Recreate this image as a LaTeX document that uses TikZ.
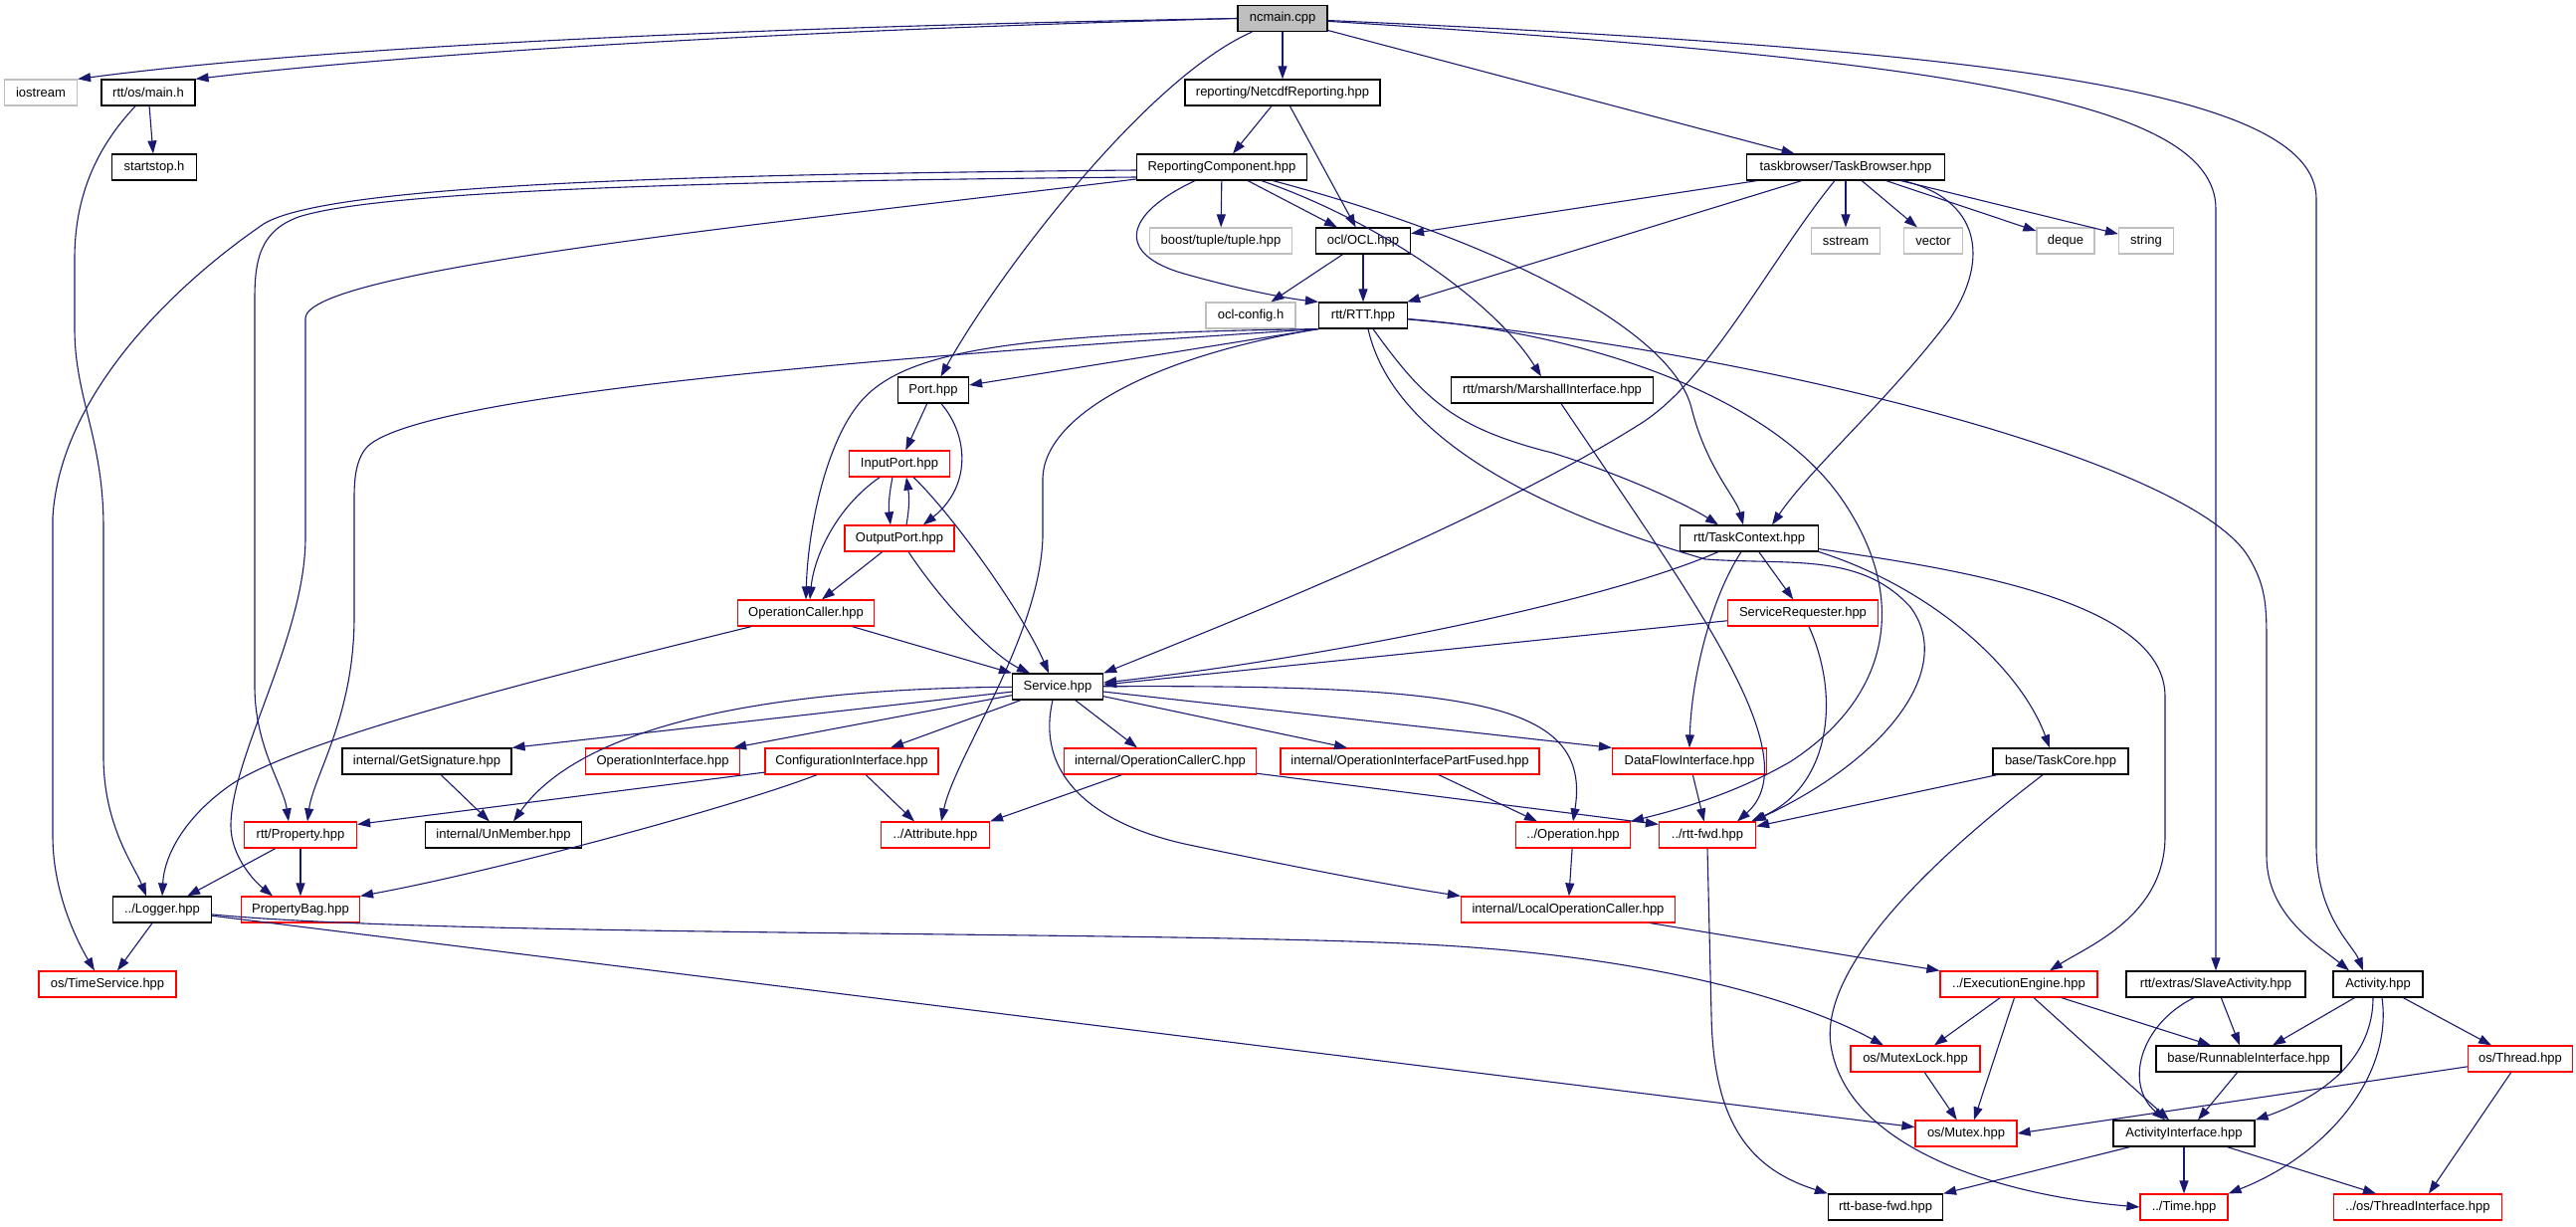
\documentclass[tikz,border=0pt]{standalone}
\usepackage{fontspec}
\setmainfont{Liberation Sans}
\usetikzlibrary{arrows.meta}
\definecolor{edgecol}{HTML}{191970}
\definecolor{doxgray}{HTML}{BFBFBF}
\definecolor{doxred}{HTML}{FF0000}
\tikzset{
  nb/.style={draw=black, line width=1.2pt, fill=white, minimum height=26pt, inner sep=0pt, font=\fontsize{13}{15}\selectfont, text=black},
  nbgray/.style={nb, draw=doxgray},
  nbred/.style={nb, draw=doxred},
  nbroot/.style={nb, fill=doxgray},
  e/.style={draw=edgecol, line width=1.1pt, -{Triangle[length=13pt,width=9pt]}},
}
\begin{document}
\begin{tikzpicture}[x=1pt,y=-1pt]
\fill[white] (0,0) rectangle (2589,1232);
\useasboundingbox (0,0) rectangle (2589,1232);
% nodes
\node[nbroot, minimum width=90pt] (ncmain) at (1289,18.5) {ncmain.cpp};
\node[nbgray, minimum width=73pt] (iostream) at (41,93) {iostream};
\node[nb, minimum width=94pt] (mainh) at (149,93) {rtt/os/main.h};
\node[nb, minimum width=196pt] (netcdf) at (1289,93) {reporting/NetcdfReporting.hpp};
\node[nb, minimum width=85pt] (startstop) at (155,168) {startstop.h};
\node[nb, minimum width=171pt] (repcomp) at (1228,168) {ReportingComponent.hpp};
\node[nb, minimum width=199pt] (taskbrowser) at (1855,168) {taskbrowser/TaskBrowser.hpp};
\node[nbgray, minimum width=143pt] (tuple) at (1227,242) {boost/tuple/tuple.hpp};
\node[nb, minimum width=95pt] (ocl) at (1370,242) {ocl/OCL.hpp};
\node[nbgray, minimum width=69pt] (sstream) at (1855,242) {sstream};
\node[nbgray, minimum width=59pt] (vector) at (1943,242) {vector};
\node[nbgray, minimum width=58pt] (deque) at (2076,242) {deque};
\node[nbgray, minimum width=55pt] (string) at (2157,242) {string};
\node[nbgray, minimum width=90pt] (oclconfig) at (1257,317) {ocl-config.h};
\node[nb, minimum width=89pt] (rtt) at (1370,317) {rtt/RTT.hpp};
\node[nb, minimum width=71pt] (port) at (938,392) {Port.hpp};
\node[nb, minimum width=203pt] (marsh) at (1560,392) {rtt/marsh/MarshallInterface.hpp};
\node[nbred, minimum width=101pt] (inputport) at (904,466) {InputPort.hpp};
\node[nbred, minimum width=110pt] (outputport) at (904,541) {OutputPort.hpp};
\node[nb, minimum width=139pt] (taskcontext) at (1758,541) {rtt/TaskContext.hpp};
\node[nbred, minimum width=137pt] (opcaller) at (810,616) {OperationCaller.hpp};
\node[nbred, minimum width=151pt] (servicereq) at (1812,616) {ServiceRequester.hpp};
\node[nb, minimum width=91pt] (service) at (1063,690) {Service.hpp};
\node[nb, minimum width=170pt] (getsig) at (429,765) {internal/GetSignature.hpp};
\node[nbred, minimum width=155pt] (opiface) at (666,765) {OperationInterface.hpp};
\node[nbred, minimum width=174pt] (configiface) at (856,765) {ConfigurationInterface.hpp};
\node[nbred, minimum width=193pt] (opcallerc) at (1166,765) {internal/OperationCallerC.hpp};
\node[nbred, minimum width=260pt] (partfused) at (1417,765) {internal/OperationInterfacePartFused.hpp};
\node[nbred, minimum width=155pt] (dataflow) at (1698,765) {DataFlowInterface.hpp};
\node[nb, minimum width=136pt] (taskcore) at (2071,765) {base/TaskCore.hpp};
\node[nbred, minimum width=113pt] (property) at (302,839) {rtt/Property.hpp};
\node[nb, minimum width=157pt] (unmember) at (506,839) {internal/UnMember.hpp};
\node[nbred, minimum width=109pt] (attribute) at (940,839) {../Attribute.hpp};
\node[nbred, minimum width=115pt] (operation) at (1581,839) {../Operation.hpp};
\node[nbred, minimum width=97pt] (rttfwd) at (1716,839) {../rtt-fwd.hpp};
\node[nb, minimum width=99pt] (logger) at (163,914) {../Logger.hpp};
\node[nbred, minimum width=119pt] (propbag) at (302,914) {PropertyBag.hpp};
\node[nbred, minimum width=215pt] (localopc) at (1576,914) {internal/LocalOperationCaller.hpp};
\node[nbred, minimum width=138pt] (timeservice) at (108,989) {os/TimeService.hpp};
\node[nbred, minimum width=158pt] (execengine) at (2029,989) {../ExecutionEngine.hpp};
\node[nb, minimum width=180pt] (slave) at (2227,989) {rtt/extras/SlaveActivity.hpp};
\node[nb, minimum width=90pt] (activity) at (2390,989) {Activity.hpp};
\node[nbred, minimum width=130pt] (mutexlock) at (1925,1064) {os/MutexLock.hpp};
\node[nb, minimum width=186pt] (runnable) at (2260,1064) {base/RunnableInterface.hpp};
\node[nbred, minimum width=105pt] (thread) at (2533,1064) {os/Thread.hpp};
\node[nbred, minimum width=102pt] (mutex) at (1976,1139) {os/Mutex.hpp};
\node[nb, minimum width=142pt] (actiface) at (2195,1139) {ActivityInterface.hpp};
\node[nb, minimum width=115pt] (rttbasefwd) at (1895,1213) {rtt-base-fwd.hpp};
\node[nbred, minimum width=88pt] (time) at (2195,1213) {../Time.hpp};
\node[nbred, minimum width=169pt] (threadiface) at (2430,1213) {../os/ThreadInterface.hpp};
% edges: ncmain
\draw[e] (ncmain.west) .. controls (700,28) and (300,50) .. (iostream.north east);
\draw[e] (ncmain.west) .. controls (700,33) and (360,60) .. (mainh.north east);
\draw[e] (ncmain) .. controls (1150,80) and (1000,280) .. (port);
\draw[e] (ncmain) -- (netcdf);
\draw[e] (ncmain) -- (taskbrowser);
\draw[e] (ncmain) .. controls (1950,60) and (2227,100) .. (2227,210) -- (slave);
\draw[e] (ncmain) .. controls (2000,50) and (2328,90) .. (2328,200) -- (2328,850) .. controls (2328,920) and (2365,950) .. ([xshift=-15pt]activity.north);
% main.h
\draw[e] (mainh) -- (startstop);
\draw[e] (mainh) .. controls (95,150) and (75,200) .. (75,260) -- (75,330) .. controls (75,400) and (104,440) .. (104,530) -- (104,760) .. controls (104,830) and (135,870) .. ([xshift=-16pt]logger.north);
% netcdf
\draw[e] (netcdf) -- (repcomp);
\draw[e] (netcdf) -- (ocl);
% reporting component
\draw[e] (repcomp) -- (tuple);
\draw[e] (repcomp) -- (ocl);
\draw[e] ([xshift=-27pt]repcomp.south) .. controls (1130,215) and (1120,255) .. (1190,275) .. controls (1250,292) and (1295,300) .. (rtt.north west);
\draw[e] (repcomp) .. controls (1380,220) and (1500,300) .. ([xshift=-11pt]marsh.north);
\draw[e] (repcomp) .. controls (1500,240) and (1680,330) .. (1700,410) .. controls (1715,470) and (1745,500) .. ([xshift=-6pt]taskcontext.north);
\draw[e] ([yshift=-3pt]repcomp.west) .. controls (700,175) and (330,185) .. (265,225) .. controls (170,290) and (60,400) .. (53,520) -- (53,840) .. controls (53,900) and (80,950) .. ([xshift=-13pt]timeservice.north);
\draw[e] ([yshift=-10pt]repcomp.west) .. controls (700,182) and (380,192) .. (300,218) .. controls (262,232) and (256,260) .. (256,300) -- (256,690) .. controls (256,750) and (285,790) .. ([xshift=-12pt]property.north);
\draw[e] ([yshift=-12pt]repcomp.west) .. controls (800,222) and (307,270) .. (307,320) -- (307,540) .. controls (307,640) and (232,760) .. (232,830) .. controls (232,860) and (255,885) .. ([xshift=-28pt]propbag.north);
% ocl
\draw[e] (ocl) -- (rtt);
\draw[e] (ocl) -- (oclconfig);
% taskbrowser
\draw[e] (taskbrowser) -- (ocl);
\draw[e] (taskbrowser) -- (rtt);
\draw[e] (taskbrowser) .. controls (1780,260) and (1720,380) .. (1650,425) .. controls (1500,520) and (1250,620) .. (service.north east);
\draw[e] (taskbrowser) -- (sstream);
\draw[e] (taskbrowser) -- (vector);
\draw[e] (taskbrowser) -- (deque);
\draw[e] (taskbrowser) -- (string);
\draw[e] (taskbrowser) .. controls (1990,200) and (2000,260) .. (1960,320) .. controls (1900,400) and (1820,470) .. ([xshift=23pt]taskcontext.north);
% rtt
\draw[e] (rtt.south west) .. controls (900,358) and (430,395) .. (370,448) .. controls (358,460) and (356,480) .. (356,500) -- (356,620) .. controls (356,720) and (315,780) .. ([xshift=7pt]property.north);
\draw[e] (rtt.south west) .. controls (1000,335) and (900,355) .. (860,410) .. controls (830,450) and (812,530) .. (opcaller.north);
\draw[e] (rtt.south west) -- ([yshift=5pt]port.east);
\draw[e] (rtt.south west) .. controls (1150,360) and (1050,420) .. (1048,480) -- (1048,540) .. controls (1045,640) and (960,760) .. ([xshift=6pt]attribute.north);
\draw[e] ([xshift=10pt]rtt.south) .. controls (1430,400) and (1460,430) .. (1560,455) .. controls (1640,480) and (1700,510) .. ([xshift=-31pt]taskcontext.north);
\draw[e] ([xshift=5pt]rtt.south) .. controls (1395,420) and (1500,500) .. (1714,562) .. controls (1800,568) and (1870,555) .. (1920,610) .. controls (1965,670) and (1900,760) .. ([xshift=-3pt]rttfwd.north east);
\draw[e] (rtt) .. controls (1600,335) and (1780,400) .. (1850,500) .. controls (1920,600) and (1900,700) .. (1800,765) .. controls (1740,800) and (1680,815) .. (operation.north east);
\draw[e] (rtt) .. controls (1750,350) and (2200,460) .. (2260,560) .. controls (2278,590) and (2278,610) .. (2278,650) -- (2278,860) .. controls (2278,920) and (2330,950) .. ([xshift=-29pt]activity.north);
% port
\draw[e] (port) -- (inputport);
\draw[e] ([xshift=8pt]port.south) .. controls (975,440) and (975,490) .. ([xshift=24pt]outputport.north);
% input / output port
\draw[e] ([xshift=-7pt]inputport.south) .. controls (893,500) and (893,510) .. ([xshift=-9pt]outputport.north);
\draw[e] ([xshift=7pt]outputport.north) .. controls (914,510) and (914,500) .. ([xshift=7pt]inputport.south);
\draw[e] (inputport) .. controls (840,510) and (818,560) .. ([xshift=4pt]opcaller.north);
\draw[e] (inputport) .. controls (960,520) and (1030,620) .. ([xshift=-9pt]service.north);
\draw[e] (outputport) -- ([xshift=16pt]opcaller.north);
\draw[e] (outputport) .. controls (950,610) and (1000,660) .. ([xshift=-28pt]service.north);
% operation caller
\draw[e] (opcaller) -- (service.north west);
\draw[e] (opcaller) .. controls (600,668) and (300,740) .. (230,790) .. controls (185,822) and (165,860) .. (logger.north);
% service
\draw[e] (service) -- (getsig.north east);
\draw[e] (service) .. controls (750,692) and (580,735) .. ([xshift=10pt]unmember.north);
\draw[e] (service) -- ([xshift=-7pt]opiface.north east);
\draw[e] (service) -- ([xshift=39pt]configiface.north);
\draw[e] (service) -- ([xshift=-23pt]opcallerc.north);
\draw[e] (service) -- ([xshift=-63pt]partfused.north);
\draw[e] (service) -- (dataflow.north west);
\draw[e] (service) .. controls (1480,688) and (1600,705) .. (operation.north);
\draw[e] ([xshift=-5pt]service.south) .. controls (1040,780) and (1100,830) .. (1200,850) .. controls (1320,875) and (1400,890) .. (localopc.north west);
% row 10 sources
\draw[e] (getsig) -- (unmember);
\draw[e] (configiface) -- ([yshift=-3pt]property.north east);
\draw[e] (configiface) -- ([xshift=-21pt]attribute.north);
\draw[e] (configiface) .. controls (740,810) and (500,875) .. (propbag.north east);
\draw[e] (opcallerc) -- (attribute.north east);
\draw[e] (opcallerc) -- ([yshift=-3pt]rttfwd.north west);
\draw[e] (partfused) -- ([xshift=-36pt]operation.north);
\draw[e] (dataflow) -- (rttfwd);
\draw[e] ([xshift=9pt]marsh.south) .. controls (1700,600) and (1820,760) .. ([xshift=30pt]rttfwd.north);
\draw[e] ([xshift=6pt]servicereq.south) .. controls (1850,700) and (1840,790) .. ([xshift=-5pt]rttfwd.north east);
\draw[e] (taskcore) -- ([yshift=-5pt]rttfwd.north east);
% task context
\draw[e] (taskcontext) .. controls (1600,610) and (1300,665) .. ([yshift=4pt]service.east);
\draw[e] (servicereq) -- ([yshift=2pt]service.east);
\draw[e] (taskcontext) -- (servicereq);
\draw[e] ([xshift=-8pt]taskcontext.south) .. controls (1720,600) and (1700,680) .. (dataflow.north);
\draw[e] (taskcontext.south east) .. controls (1940,590) and (2030,670) .. ([xshift=-11pt]taskcore.north);
\draw[e] (taskcontext) .. controls (1950,570) and (2176,600) .. (2176,700) -- (2176,840) .. controls (2176,920) and (2100,950) .. ([xshift=31pt]execengine.north);
% operation / local caller / rtt-fwd
\draw[e] (operation) -- (localopc);
\draw[e] (localopc) -- (execengine.north west);
\draw[e] (rttfwd.south) -- (1720,1020) .. controls (1722,1130) and (1760,1175) .. (rttbasefwd.north west);
% logger, property
\draw[e] (logger) -- (timeservice);
\draw[e] (logger) .. controls (450,942) and (1200,935) .. (1450,950) .. controls (1650,962) and (1800,1000) .. ([xshift=-32pt]mutexlock.north);
\draw[e] (logger) -- (mutex);
\draw[e] (property) -- (logger);
\draw[e] (property) -- (propbag);
% task core
\draw[e] (taskcore) .. controls (1920,880) and (1830,980) .. (1840,1050) .. controls (1855,1150) and (2000,1200) .. (time.west);
% execution engine
\draw[e] (execengine) -- ([xshift=19pt]mutexlock.north);
\draw[e] (execengine) -- ([xshift=8pt]mutex.north);
\draw[e] (execengine) -- ([xshift=-15pt]actiface.north);
\draw[e] (execengine) -- ([xshift=-38pt]runnable.north);
\draw[e] (mutexlock) -- (mutex);
% slave activity
\draw[e] (slave) -- ([xshift=-9pt]runnable.north);
\draw[e] ([xshift=-22pt]slave.south) .. controls (2150,1030) and (2135,1090) .. ([xshift=-19pt]actiface.north);
% activity
\draw[e] (activity) -- ([xshift=24pt]runnable.north);
\draw[e] (activity) -- ([xshift=-29pt]thread.north);
\draw[e] ([xshift=-5pt]activity.south) .. controls (2385,1060) and (2340,1100) .. (actiface.north east);
\draw[e] ([xshift=4pt]activity.south) .. controls (2405,1080) and (2340,1160) .. (time.north east);
% thread
\draw[e] (thread) -- (mutex.east);
\draw[e] (thread) -- ([xshift=11pt]threadiface.north);
% runnable / activity interface
\draw[e] (runnable) -- ([xshift=14pt]actiface.north);
\draw[e] (actiface) -- (rttbasefwd.north east);
\draw[e] (actiface) -- (time);
\draw[e] (actiface) -- ([xshift=-42pt]threadiface.north);
\end{tikzpicture}
\end{document}
